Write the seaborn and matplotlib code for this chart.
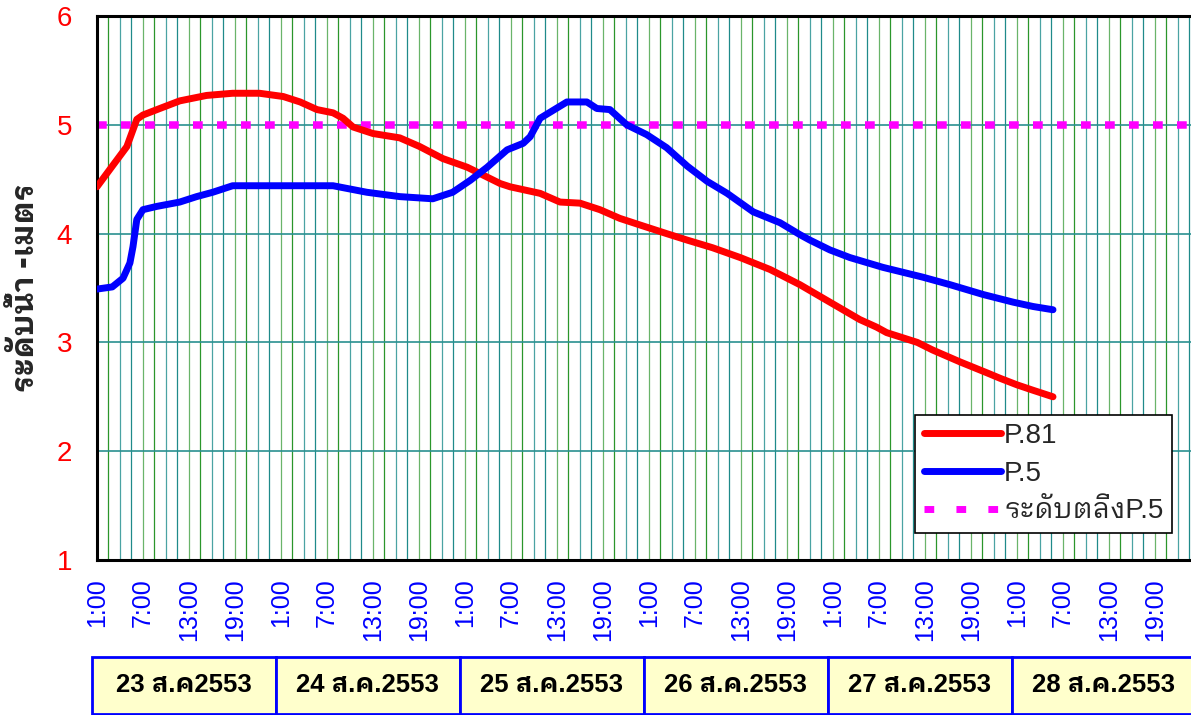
import numpy as np
import pandas as pd
import matplotlib
matplotlib.use('Agg')
import matplotlib.pyplot as plt
import matplotlib.transforms as mtransforms
from matplotlib.patches import Rectangle
from matplotlib.lines import Line2D
import seaborn as sns

# hours counted from 23 Aug 2553, 1:00
p81_hours = [0, 2, 3.9, 5.2, 6, 8.2, 10.8, 14.3, 17.7, 21.2, 24.3, 26.5, 28.7, 30.8,
             32.1, 33.4, 36, 39.5, 42.1, 45.1, 48.3, 50.3, 52.6, 53.9, 57.8, 60.4, 63,
             65.6, 68.2, 70.8, 74.3, 77, 80.3, 83.9, 87.8, 91.7, 95.6, 99.5, 101.7, 103,
             107, 109, 112.6, 116.1, 117.8, 120, 122.1, 124.7]
p81_level = [4.43, 4.62, 4.80, 5.05, 5.09, 5.15, 5.22, 5.27, 5.29, 5.29, 5.26, 5.21, 5.14,
             5.11, 5.06, 4.98, 4.92, 4.88, 4.80, 4.69, 4.61, 4.54, 4.46, 4.43, 4.37, 4.29,
             4.28, 4.22, 4.14, 4.08, 4.00, 3.94, 3.87, 3.78, 3.67, 3.53, 3.37, 3.21, 3.14,
             3.09, 3.00, 2.93, 2.82, 2.72, 2.67, 2.61, 2.56, 2.50]

p5_hours = [0, 2, 3.4, 4.3, 4.7, 5.2, 6, 7.8, 10.8, 13, 15.1, 17.7, 22.2, 30.8, 35.2, 39.5,
            43.8, 46.4, 48.7, 50.9, 53.5, 55.6, 56.5, 57.8, 61.3, 63.9, 65.2, 66.9, 69.1,
            71.7, 74.3, 77, 79.6, 82.2, 85.6, 89.1, 91.7, 93, 95.6, 98.2, 102.5, 107.7,
            111.3, 115.6, 119.5, 122.1, 124.7]
p5_level = [3.49, 3.51, 3.59, 3.73, 3.88, 4.13, 4.22, 4.25, 4.29, 4.34, 4.38, 4.44, 4.44,
            4.44, 4.38, 4.34, 4.32, 4.38, 4.49, 4.61, 4.77, 4.83, 4.89, 5.06, 5.21, 5.21,
            5.15, 5.14, 5.00, 4.91, 4.79, 4.62, 4.48, 4.37, 4.20, 4.10, 3.99, 3.94, 3.85,
            3.78, 3.69, 3.60, 3.53, 3.44, 3.37, 3.33, 3.30]

bank_level = 5.0
x_end = 142.7

tick_labels = ['1:00', '7:00', '13:00', '19:00']
day_labels = ['23 ส.ค2553', '24 ส.ค.2553', '25 ส.ค.2553', '26 ส.ค.2553',
              '27 ส.ค.2553', '28 ส.ค.2553']
series_names = ['P.81', 'P.5', 'ระดับตลิ่งP.5']

THAI = 'IBM Plex Sans Thai Looped'
MIXED = ['Liberation Sans', THAI, 'DejaVu Sans']

sns.set_style('white')
plt.rcParams['font.family'] = MIXED

df = pd.concat([
    pd.DataFrame({'hour': p81_hours, 'level': p81_level, 'station': series_names[0]}),
    pd.DataFrame({'hour': p5_hours, 'level': p5_level, 'station': series_names[1]}),
])

fig = plt.figure(figsize=(11.91, 7.15), dpi=100)
ax = fig.add_axes([0.0814, 0.2168, 0.9186, 0.7608])

# vertical grid every 1.5 h, alternating greens and teals
grid_cols = ['#2b962b', '#4aa3a3', '#1f8a8a', '#6ab46a']
for i, gx in enumerate(np.arange(1.5, x_end, 1.5)):
    ax.axvline(gx, color=grid_cols[i % 4], lw=0.9, zorder=0)
for gy in range(2, 6):
    ax.axhline(gy, color='#2a9090', lw=1.2, zorder=0)

ax.plot([0, x_end], [bank_level, bank_level], color='#ff00ff', lw=5.4,
        dashes=(1.3, 1.9), dash_capstyle='butt', zorder=2)

sns.lineplot(data=df, x='hour', y='level', hue='station', sort=False,
             palette={series_names[0]: '#ff0000', series_names[1]: '#0000ff'},
             lw=5, ax=ax, legend=False, zorder=3)
for ln in ax.lines[-2:]:
    ln.set_solid_capstyle('round')
    ln.set_solid_joinstyle('round')

ax.set_xlim(0, x_end)
ax.set_ylim(1, 6)
ax.set_yticks(range(1, 7))
ax.set_yticklabels([str(v) for v in range(1, 7)], color='red', fontsize=20)
ax.set_xticks(np.arange(0, x_end, 3), minor=True)
label_pos = np.arange(0, x_end, 6)
ax.set_xticks(label_pos)
ax.set_xticklabels([tick_labels[i % 4] for i in range(len(label_pos))],
                   rotation=90, color='blue', fontsize=18, ha='center', va='top')
ax.tick_params(axis='x', which='both', length=8, width=1.2, color='#333333', pad=5)
ax.tick_params(axis='y', length=8, width=1.2, pad=10)

for side in ['left', 'bottom', 'top']:
    ax.spines[side].set_linewidth(2.2)
    ax.spines[side].set_color('black')
ax.spines['right'].set_visible(False)

ax.set_xlabel('')
ax.set_ylabel('ระดับน้ำ -เมตร', fontsize=22, fontweight='bold',
              family=[THAI, 'DejaVu Sans'], va='center')
ax.yaxis.set_label_coords(-0.066, 0.5)

handles = [Line2D([], [], color='#ff0000', lw=5, solid_capstyle='round'),
           Line2D([], [], color='#0000ff', lw=5, solid_capstyle='round'),
           Line2D([], [], color='#ff00ff', lw=5, dashes=(1.4, 3.2), dash_capstyle='butt')]
leg = ax.legend(handles, series_names, loc='lower left', bbox_to_anchor=(0.748, 0.05),
                fontsize=20, frameon=True, fancybox=False, framealpha=1,
                edgecolor='black', handlelength=2.8, handletextpad=0.1,
                labelspacing=0.42, borderpad=0.3, borderaxespad=0)
leg.get_frame().set_linewidth(1.2)

# date boxes below the axis
trans = mtransforms.blended_transform_factory(ax.transData, fig.transFigure)
box_y0 = 1 - 714 / 715
box_h = (714 - 657) / 715
for d, lab in enumerate(day_labels):
    x0 = d * 24 - 0.7
    w = 24 if d < len(day_labels) - 1 else x_end - x0 + 5
    fig.patches.append(Rectangle((x0, box_y0), w, box_h, transform=trans,
                                 facecolor='#ffffcc', edgecolor='#0000ff', lw=2,
                                 clip_on=False))
    fig.text(x0 + 12, box_y0 + box_h / 2, lab, transform=trans, ha='center',
             va='center', fontsize=18.5, fontweight='bold', color='black')

fig.savefig('out.png', dpi=100)
